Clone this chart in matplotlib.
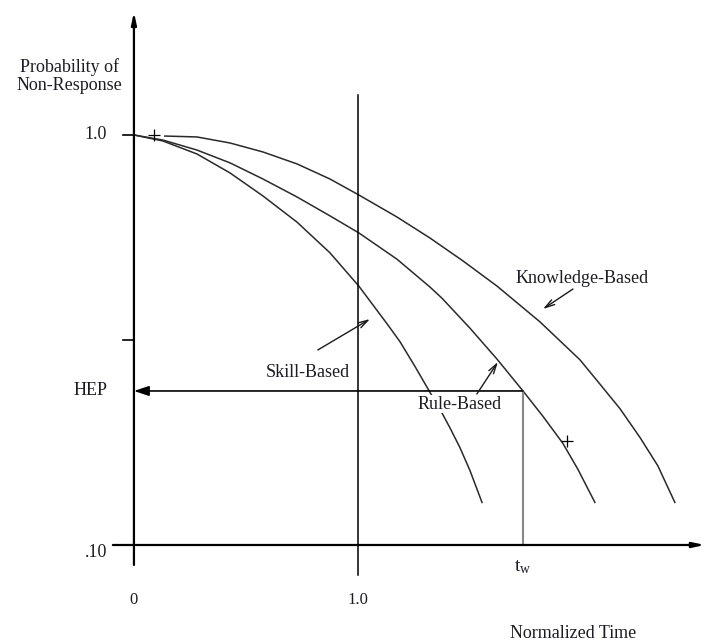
import matplotlib
matplotlib.use("Agg")
import matplotlib.pyplot as plt

plt.rcParams['font.family'] = ['Liberation Serif', 'DejaVu Serif']
plt.rcParams['mathtext.fontset'] = 'custom'
plt.rcParams['mathtext.rm'] = 'Liberation Serif'

# curves: normalized time vs probability of non-response
skill_t = [0.0, 0.129, 0.281, 0.429, 0.576, 0.728, 0.875, 1.004, 1.134,
           1.188, 1.254, 1.321, 1.375, 1.411, 1.455, 1.500, 1.554]
skill_p = [1.0, 0.967, 0.899, 0.808, 0.710, 0.613, 0.516, 0.428, 0.344,
           0.313, 0.273, 0.236, 0.210, 0.193, 0.173, 0.152, 0.127]

rule_t = [0.0, 0.129, 0.281, 0.429, 0.576, 0.728, 0.875, 1.004, 1.174,
          1.321, 1.375, 1.500, 1.621, 1.737, 1.826, 1.915, 1.982, 2.058]
rule_p = [1.0, 0.972, 0.919, 0.855, 0.781, 0.706, 0.635, 0.577, 0.498,
          0.426, 0.400, 0.338, 0.284, 0.2375, 0.206, 0.177, 0.153, 0.127]

know_t = [0.138, 0.281, 0.429, 0.576, 0.728, 0.875, 1.004, 1.174, 1.321,
          1.469, 1.621, 1.813, 1.991, 2.080, 2.170, 2.259, 2.339, 2.415]
know_p = [0.994, 0.989, 0.956, 0.909, 0.850, 0.781, 0.714, 0.631, 0.561,
          0.493, 0.428, 0.350, 0.283, 0.247, 0.215, 0.183, 0.156, 0.127]

t_w = 1.737
hep = 0.2375
p_top = 1.0
p_bottom = 0.10
p_mid = 0.316

ink = '#1c1c24'
fs = 13

fig = plt.figure(figsize=(7.06, 6.44), dpi=100)
ax = fig.add_axes([0, 0, 1, 1])
ax.set_yscale('log')
ax.set_xlim(-0.598, 2.554)
ax.set_ylim(0.05735, 2.134)
ax.axis('off')

# curves
for tt, pp in [(skill_t, skill_p), (rule_t, rule_p), (know_t, know_p)]:
    ax.plot(tt, pp, color='#2a2a2a', lw=1.1, solid_joinstyle='round', zorder=2)

# axes with arrows
ax.annotate('', xy=(0, 1.995), xytext=(0, 0.0894),
            arrowprops=dict(arrowstyle='-|>,head_length=0.7,head_width=0.15',
                            color='black', lw=1.6, shrinkA=0, shrinkB=0))
ax.annotate('', xy=(2.549, p_bottom), xytext=(-0.094, p_bottom),
            arrowprops=dict(arrowstyle='-|>,head_length=0.7,head_width=0.15',
                            color='black', lw=1.6, shrinkA=0, shrinkB=0))

# y ticks
for p in [p_top, p_mid]:
    ax.plot([-0.05, 0], [p, p], color='black', lw=1.2)

# vertical line at t = 1.0
ax.plot([1.0, 1.0], [0.0845, 1.252], color='black', lw=1.1)

# HEP arrow and t_w drop line
ax.annotate('', xy=(0, hep), xytext=(t_w, hep),
            arrowprops=dict(arrowstyle='-|>,head_length=0.9,head_width=0.3',
                            color='black', lw=1.2, shrinkA=0, shrinkB=0))
ax.plot([t_w, t_w], [p_bottom, hep], color='#888888', lw=1.5)

# plus markers
ax.plot([0.089, 1.933], [1.0, 0.179], marker='+', ls='none', color='black',
        ms=8, mew=0.9)

# text
ax.text(-0.286, 1.393, 'Probability of\nNon-Response', ha='center', va='center',
        fontsize=fs, color=ink, linespacing=1.05)
ax.text(-0.12, p_top, '1.0', ha='right', va='center', fontsize=fs, color=ink)
ax.text(-0.116, hep, 'HEP', ha='right', va='center', fontsize=fs, color=ink)
ax.text(-0.12, 0.096, '.10', ha='right', va='center', fontsize=fs, color=ink)
ax.text(0.0, 0.0735, '0', ha='center', va='center', fontsize=fs - 1, color=ink)
ax.text(1.0, 0.0735, '1.0', ha='center', va='center', fontsize=fs - 1, color=ink)
ax.text(t_w, 0.0884, r'$\mathregular{t_w}$', ha='center', va='center',
        fontsize=fs + 1, color=ink)
ax.text(1.96, 0.0607, 'Normalized Time', ha='center', va='center',
        fontsize=fs, color=ink)

ax.text(0.777, 0.264, 'Skill-Based', ha='center', va='center', fontsize=fs, color=ink)
ax.text(1.455, 0.2207, 'Rule-Based', ha='center', va='center', fontsize=fs, color=ink,
        bbox=dict(facecolor='white', edgecolor='none', pad=0.5), zorder=3)
ax.text(2.0, 0.4455, 'Knowledge-Based', ha='center', va='center', fontsize=fs, color=ink)

arrow_kw = dict(arrowstyle='->,head_length=0.7,head_width=0.2', color='#1a1a1a',
                lw=1.0, shrinkA=0, shrinkB=0)
ax.annotate('', xy=(1.054, 0.3557), xytext=(0.821, 0.299), arrowprops=arrow_kw)
ax.annotate('', xy=(1.625, 0.2795), xytext=(1.531, 0.2335), arrowprops=arrow_kw)
ax.annotate('', xy=(1.826, 0.3763), xytext=(1.96, 0.421), arrowprops=arrow_kw)

fig.savefig('out.png', dpi=100)
